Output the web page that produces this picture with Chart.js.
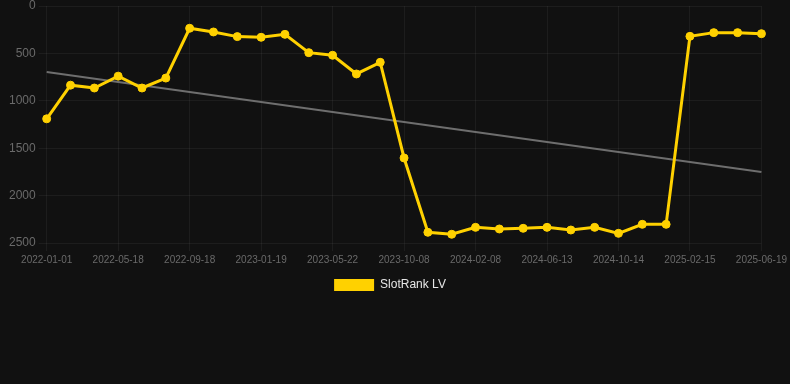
<!DOCTYPE html>
<html>
<head>
<meta charset="utf-8">
<script src="https://cdn.jsdelivr.net/npm/chart.js@4.4.0/dist/chart.umd.min.js"></script>
<style>
  html, body { margin: 0; padding: 0; background: #111111; overflow: hidden; }
  #wrap { width: 790px; height: 304px; margin-top: -3px; }
</style>
</head>
<body>
<div id="wrap"><canvas id="rankChart"></canvas></div>
<script>
// dates of each rank snapshot
var dates = [
  "2022-01-01", "2022-02-15", "2022-04-01", "2022-05-18", "2022-06-29", "2022-08-09",
  "2022-09-18", "2022-10-28", "2022-12-09", "2023-01-19", "2023-03-01", "2023-04-11",
  "2023-05-22", "2023-07-04", "2023-08-21", "2023-10-08", "2023-11-18", "2023-12-29",
  "2024-02-08", "2024-03-21", "2024-05-02", "2024-06-13", "2024-07-25", "2024-09-03",
  "2024-10-14", "2024-11-25", "2025-01-05", "2025-02-15", "2025-03-27", "2025-05-08",
  "2025-06-19"
];

// rank values (lower is better, axis reversed)
var rankLV = [
  1190, 835, 865, 740, 865, 760,
  235, 274, 323, 330, 299, 492,
  520, 717, 594, 1603, 2387, 2408,
  2335, 2352, 2345, 2335, 2363, 2335,
  2398, 2303, 2303, 320, 281, 281,
  292
];

// trend line: start and end value only
var trendEnds = [696, 1751];

var yTicks = [0, 500, 1000, 1500, 2000, 2500];

var trend = dates.map(function (d, i) {
  if (i === 0) return trendEnds[0];
  if (i === dates.length - 1) return trendEnds[1];
  return null;
});

var ctx = document.getElementById("rankChart").getContext('2d');
var rankChart = new Chart(ctx, {
  type: 'line',
  data: {
    labels: dates,
    datasets: [{
      label: 'SlotRank LV',
      data: rankLV,
      borderColor: '#FFD100',
      backgroundColor: '#FFD100',
      borderWidth: 3,
      pointRadius: 4,
      pointBorderWidth: 1,
      pointBackgroundColor: '#FFD100',
      pointBorderColor: '#FFD100',
      tension: 0,
      order: 1
    }, {
      label: 'trend',
      data: trend,
      borderColor: '#6e6e6e',
      borderWidth: 2,
      pointRadius: 0,
      spanGaps: true,
      order: 2
    }]
  },
  options: {
    responsive: true,
    maintainAspectRatio: false,
    animation: false,
    layout: { padding: { left: 6, right: 16, top: 0 } },
    scales: {
      x: {
        grid: { color: 'rgba(255,255,255,0.05)' },
        border: { display: false },
        ticks: {
          color: '#6a6a6a',
          font: { family: 'Liberation Sans', size: 10 },
          maxRotation: 0,
          autoSkip: true,
          maxTicksLimit: 11
        }
      },
      y: {
        reverse: true,
        min: yTicks[0],
        max: yTicks[yTicks.length - 1],
        grid: { color: 'rgba(255,255,255,0.05)' },
        border: { display: false },
        ticks: {
          stepSize: 500,
          color: '#6a6a6a',
          font: { family: 'Liberation Sans', size: 12, lineHeight: 1 },
          callback: function (v) { return String(v); }
        }
      }
    },
    plugins: {
      legend: {
        position: 'bottom',
        labels: {
          color: '#e6e6e6',
          font: { family: 'Liberation Sans', size: 12 },
          boxWidth: 40,
          boxHeight: 12,
          filter: function (item) { return item.text !== 'trend'; },
          generateLabels: function (chart) {
            var items = Chart.defaults.plugins.legend.labels.generateLabels(chart);
            items.forEach(function (it) { it.lineWidth = 0; });
            return items;
          }
        }
      },
      tooltip: { enabled: false }
    }
  }
});
</script>
</body>
</html>
